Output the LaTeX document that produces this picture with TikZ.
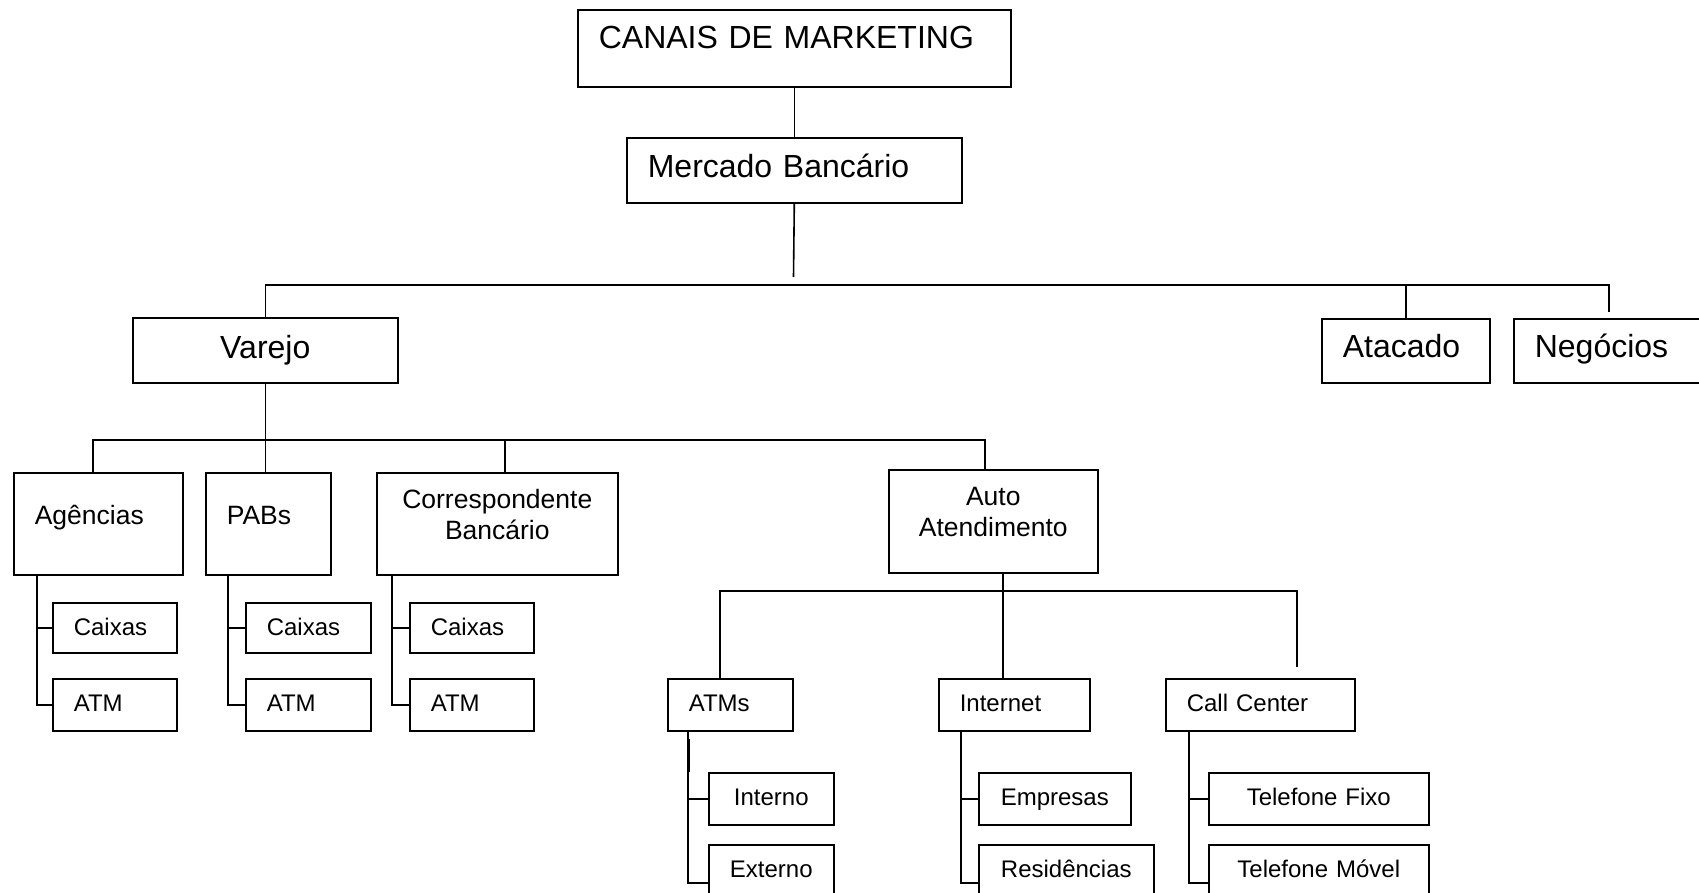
\documentclass[tikz,border=0pt]{standalone}
\usepackage{fontspec}
\setmainfont{Liberation Sans}
\usepackage{tikz}
\usetikzlibrary{calc,positioning}
\tikzset{
  box/.style={draw,line width=0.8pt,inner ysep=0pt,anchor=north west},
  big/.style={box,font=\fontsize{16}{18}\selectfont},
  mid/.style={box,font=\fontsize{13.25}{15.25}\selectfont},
  small/.style={box,font=\fontsize{12}{14}\selectfont},
  lpad/.style={align=left,inner xsep=10.5pt,text width=#1},
  ctr/.style={align=center,inner xsep=0pt,text width=#1},
  hd/.style 2 args={text height=#1,text depth=#2},
  link/.style={line width=0.8pt}
}

\begin{document}
\begin{tikzpicture}[x=0.5pt,y=-0.5pt,line cap=butt,line join=miter]
  % --- Window and clip ---
  \useasboundingbox (0,0) rectangle (1699,893);
  \clip (0,0) rectangle (1699,893);

  % --- Top levels ---
  \node[big,lpad=195.5pt,hd={19.5pt}{19pt}] (canais) at (577,9) {CANAIS DE MARKETING};
  \node[big,lpad=146.5pt,hd={20pt}{12.5pt}] (mercado) at (626,137) {Mercado Bancário};
  \node[big,ctr=132.5pt,hd={20.5pt}{12pt}] (varejo) at (132,317) {Varejo};
  \node[big,lpad=63pt,hd={19.5pt}{12.5pt}] (atacado) at (1321,318) {Atacado};
  \node[big,lpad=79pt,hd={19.5pt}{12.5pt}] (negocios) at (1513,318) {Negócios};

  % --- Varejo channels ---
  \node[mid,lpad=63.5pt,hd={26pt}{25pt}] (agencias) at (13,472) {Agências};
  \node[mid,lpad=41.5pt,hd={26pt}{25pt}] (pabs) at (205,472) {PABs};
  \node[mid,ctr=120.5pt,hd={18pt}{33pt}] (corresp) at (376,472) {Correspondente\\Bancário};
  \node[mid,ctr=104.5pt,hd={18pt}{33.5pt}] (auto) at (888,469) {Auto\\Atendimento};

  % --- Caixas / ATM ---
  \node[small,lpad=41pt,hd={16.5pt}{8.5pt}] (caixasA) at (52,602) {Caixas};
  \node[small,lpad=41pt,hd={16.5pt}{9.5pt}] (atmA) at (52,678) {ATM};
  \node[small,lpad=41.5pt,hd={16.5pt}{8.5pt}] (caixasB) at (245,602) {Caixas};
  \node[small,lpad=41.5pt,hd={16.5pt}{9.5pt}] (atmB) at (245,678) {ATM};
  \node[small,lpad=41pt,hd={16.5pt}{8.5pt}] (caixasC) at (409,602) {Caixas};
  \node[small,lpad=41pt,hd={16.5pt}{9.5pt}] (atmC) at (409,678) {ATM};

  % --- Auto atendimento ---
  \node[small,lpad=41.5pt,hd={16.5pt}{9.5pt}] (atms) at (667,678) {ATMs};
  \node[small,lpad=54.5pt,hd={16.5pt}{9.5pt}] (internet) at (938,678) {Internet};
  \node[small,lpad=73.5pt,hd={16.5pt}{9.5pt}] (callc) at (1165,678) {Call Center};

  \node[small,ctr=62.5pt,hd={16.5pt}{9.5pt}] (interno) at (708,772) {Interno};
  \node[small,ctr=62.5pt,hd={16.5pt}{21.5pt}] (externo) at (708,844) {Externo};
  \node[small,ctr=76pt,hd={16.5pt}{9.5pt}] (empresas) at (978,772) {Empresas};
  \node[small,ctr=87.5pt,hd={16.5pt}{21.5pt}] (resid) at (978,844) {Residências};
  \node[small,ctr=110pt,hd={16.5pt}{9.5pt}] (fixo) at (1208,772) {Telefone Fixo};
  \node[small,ctr=110pt,hd={16.5pt}{21.5pt}] (movel) at (1208,844) {Telefone Móvel};

  % --- Bus points ---
  \coordinate (mstub) at (793.5,277);
  \coordinate (b1e) at (1609,285);
  \coordinate (negstub) at (1609,312);
  \coordinate (b2w) at (93,440);
  \coordinate (b2c) at (505,440);
  \coordinate (b2e) at (985,440);
  \coordinate (b3w) at (720,591);
  \coordinate (b3e) at (1297,591);
  \coordinate (ccstub) at (1297,667);
  \coordinate (tI) at (1003,0);
  \coordinate (dbl) at (689,739);
  % trunks of the lists
  \coordinate (tA) at (37,0);
  \coordinate (tB) at (228,0);
  \coordinate (tC) at (392,0);
  \coordinate (tD) at (688,0);
  \coordinate (tE) at (961,0);
  \coordinate (tF) at (1189,0);

  % --- Connectors ---
  \draw[link] (canais.south) -- (mercado.north);
  \draw[link] (mercado.south) -- (mstub);
  \draw[link] (varejo.north) |- (b1e) -- (negstub);
  \draw[link] (atacado.north) -- (atacado.north |- b1e);

  \draw[link] (varejo.south) -- (pabs.north -| varejo.south);
  \draw[link] (agencias.north -| b2w) -- (b2w) -- (b2e) -- (auto.north -| b2e);
  \draw[link] (b2c) -- (corresp.north -| b2c);

  \draw[link] (auto.south -| tI) -- (internet.north -| tI);
  \draw[link] (atms.north -| b3w) -- (b3w) -- (b3e) -- (ccstub);

  \draw[link] (agencias.south -| tA) |- (atmA.west);
  \draw[link] (caixasA.west -| tA) -- (caixasA.west);
  \draw[link] (pabs.south -| tB) |- (atmB.west);
  \draw[link] (caixasB.west -| tB) -- (caixasB.west);
  \draw[link] (corresp.south -| tC) |- (atmC.west);
  \draw[link] (caixasC.west -| tC) -- (caixasC.west);

  \draw[link] (atms.south -| tD) |- (externo.west);
  \draw[link] (interno.west -| tD) -- (interno.west);
  \draw[line width=1.4pt] (dbl) -- (dbl |- interno.north);
  \draw[link] (internet.south -| tE) |- (resid.west);
  \draw[link] (empresas.west -| tE) -- (empresas.west);
  \draw[link] (callc.south -| tF) |- (movel.west);
  \draw[link] (fixo.west -| tF) -- (fixo.west);

\end{tikzpicture}
\end{document}
